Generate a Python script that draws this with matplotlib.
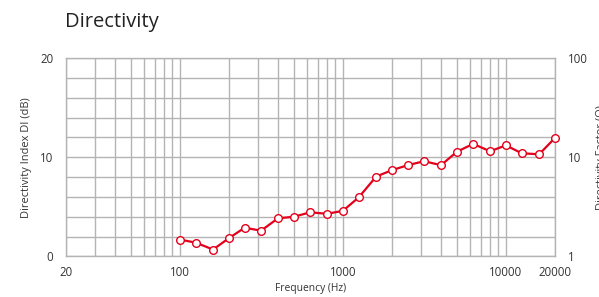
import numpy as np
import matplotlib
matplotlib.use('Agg')
import matplotlib.pyplot as plt
from matplotlib.ticker import FixedLocator, NullFormatter, NullLocator

# 1/3 octave frequencies and directivity index
freq = [100, 125, 160, 200, 250, 315, 400, 500, 630, 800, 1000, 1250,
        1600, 2000, 2500, 3150, 4000, 5000, 6300, 8000, 10000, 12500, 16000, 20000]
di_db = [1.7, 1.4, 0.7, 1.85, 2.9, 2.6, 3.85, 4.0, 4.45, 4.3, 4.6, 5.95,
         8.05, 8.7, 9.2, 9.6, 9.2, 10.55, 11.35, 10.6, 11.2, 10.4, 10.3, 11.95]

x_ticks = [20, 100, 1000, 10000, 20000]
x_minor = [30, 40, 50, 60, 70, 80, 90, 200, 300, 400, 500, 600, 700, 800, 900,
           2000, 3000, 4000, 5000, 6000, 7000, 8000, 9000]
y_ticks = [0, 10, 20]
y_minor = [2, 4, 6, 8, 12, 14, 16, 18]
q_ticks = [1, 10, 100]

grid_col = '#b4b4b4'
red = '#e3001b'
txt = '#333333'

plt.rcParams['font.family'] = ['Open Sans', 'DejaVu Sans']

fig = plt.figure(figsize=(5.99, 2.97), dpi=100)
ax = fig.add_axes([0.110, 0.1364, 0.8165, 0.6683])

ax.plot(freq, di_db, color=red, lw=1.6, marker='o', ms=5.5,
        mfc='white', mec=red, mew=1.0, zorder=5, clip_on=False)

ax.set_xscale('log')
ax.set_xlim(20, 20000)
ax.set_ylim(0, 20)
ax.xaxis.set_major_locator(FixedLocator(x_ticks))
ax.xaxis.set_minor_locator(FixedLocator(x_minor))
ax.xaxis.set_minor_formatter(NullFormatter())
ax.set_xticklabels([str(t) for t in x_ticks])
ax.set_yticks(y_ticks)
ax.set_yticks(y_minor, minor=True)

ax.grid(True, which='both', color=grid_col, lw=1.0)
ax.set_axisbelow(True)
for s in ax.spines.values():
    s.set_color(grid_col)
    s.set_linewidth(1.0)

ax.tick_params(which='both', length=0, labelsize=8.3, colors=txt)
ax.tick_params(axis='y', pad=9)
ax.tick_params(axis='x', pad=7)

ax.set_xlabel('Frequency (Hz)', fontsize=7.4, color=txt, labelpad=3)
ax.set_ylabel('Directivity Index DI (dB)', fontsize=7.9, color=txt, labelpad=6)

ax2 = ax.twinx()
ax2.set_yscale('log')
ax2.set_ylim(1, 100)
ax2.yaxis.set_major_locator(FixedLocator(q_ticks))
ax2.yaxis.set_minor_locator(NullLocator())
ax2.set_yticklabels([str(t) for t in q_ticks])
ax2.tick_params(length=0, labelsize=8.3, colors=txt, pad=9)
for s in ax2.spines.values():
    s.set_visible(False)
ax2.set_ylabel('Directivity Factor (Q)', fontsize=7.9, color=txt, labelpad=6)

fig.text(0.108, 0.925, 'Directivity', fontsize=14.5, color='#222222', va='center', ha='left')

fig.savefig('out.png', dpi=100)
